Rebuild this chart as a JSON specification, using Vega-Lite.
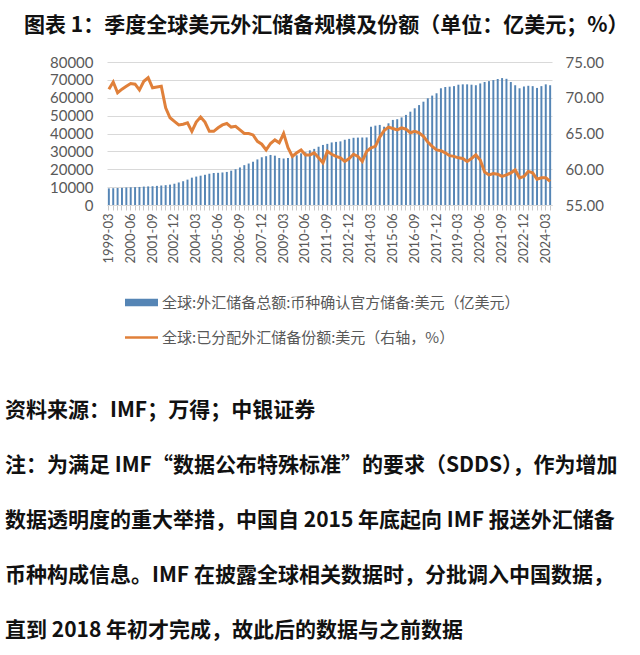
{
  "$schema": "https://vega.github.io/schema/vega-lite/v6.json",
  "background": "white",
  "padding": {"left": 5, "top": 15, "right": 5, "bottom": 0},
  "title": {
    "text": "图表 1：季度全球美元外汇储备规模及份额（单位：亿美元；%）",
    "font": "Noto Sans CJK SC",
    "fontSize": 21,
    "fontWeight": "bold",
    "color": "#111111",
    "anchor": "start",
    "dx": 19,
    "offset": 19
  },
  "datasets": {
    "reserves": [
      {"q": "1999-03", "usd": 9300, "share": 71.2},
      {"q": "1999-06", "usd": 9400, "share": 72.2},
      {"q": "1999-09", "usd": 9500, "share": 70.7},
      {"q": "1999-12", "usd": 9600, "share": 71.2},
      {"q": "2000-03", "usd": 9800, "share": 71.6},
      {"q": "2000-06", "usd": 9900, "share": 72.0},
      {"q": "2000-09", "usd": 10000, "share": 71.9},
      {"q": "2000-12", "usd": 10100, "share": 71.1},
      {"q": "2001-03", "usd": 10300, "share": 72.3},
      {"q": "2001-06", "usd": 10400, "share": 72.8},
      {"q": "2001-09", "usd": 10500, "share": 71.4},
      {"q": "2001-12", "usd": 10700, "share": 71.5},
      {"q": "2002-03", "usd": 10900, "share": 71.6},
      {"q": "2002-06", "usd": 11100, "share": 68.6},
      {"q": "2002-09", "usd": 11400, "share": 67.2},
      {"q": "2002-12", "usd": 11900, "share": 66.7},
      {"q": "2003-03", "usd": 12600, "share": 66.2},
      {"q": "2003-06", "usd": 13300, "share": 66.3},
      {"q": "2003-09", "usd": 14200, "share": 66.5},
      {"q": "2003-12", "usd": 15300, "share": 65.3},
      {"q": "2004-03", "usd": 15900, "share": 66.6},
      {"q": "2004-06", "usd": 16400, "share": 67.3},
      {"q": "2004-09", "usd": 16900, "share": 66.6},
      {"q": "2004-12", "usd": 17500, "share": 65.3},
      {"q": "2005-03", "usd": 17900, "share": 65.3},
      {"q": "2005-06", "usd": 18000, "share": 65.8},
      {"q": "2005-09", "usd": 18200, "share": 66.2},
      {"q": "2005-12", "usd": 18500, "share": 66.4},
      {"q": "2006-03", "usd": 19200, "share": 65.9},
      {"q": "2006-06", "usd": 20000, "share": 66.0},
      {"q": "2006-09", "usd": 21000, "share": 65.5},
      {"q": "2006-12", "usd": 22300, "share": 65.0},
      {"q": "2007-03", "usd": 23200, "share": 65.0},
      {"q": "2007-06", "usd": 24200, "share": 64.8},
      {"q": "2007-09", "usd": 25500, "share": 63.9},
      {"q": "2007-12", "usd": 26700, "share": 63.5},
      {"q": "2008-03", "usd": 27300, "share": 62.7},
      {"q": "2008-06", "usd": 28000, "share": 63.6},
      {"q": "2008-09", "usd": 27600, "share": 64.1},
      {"q": "2008-12", "usd": 26300, "share": 63.7},
      {"q": "2009-03", "usd": 26000, "share": 65.0},
      {"q": "2009-06", "usd": 26300, "share": 63.0},
      {"q": "2009-09", "usd": 27000, "share": 61.8},
      {"q": "2009-12", "usd": 27800, "share": 62.3},
      {"q": "2010-03", "usd": 28900, "share": 62.7},
      {"q": "2010-06", "usd": 29500, "share": 62.0},
      {"q": "2010-09", "usd": 30600, "share": 62.0},
      {"q": "2010-12", "usd": 31400, "share": 62.3},
      {"q": "2011-03", "usd": 32600, "share": 61.6},
      {"q": "2011-06", "usd": 33600, "share": 60.9},
      {"q": "2011-09", "usd": 34200, "share": 62.5},
      {"q": "2011-12", "usd": 35000, "share": 62.1},
      {"q": "2012-03", "usd": 35300, "share": 61.8},
      {"q": "2012-06", "usd": 35600, "share": 61.6},
      {"q": "2012-09", "usd": 36500, "share": 61.1},
      {"q": "2012-12", "usd": 37000, "share": 61.5},
      {"q": "2013-03", "usd": 37600, "share": 62.1},
      {"q": "2013-06", "usd": 37700, "share": 61.8},
      {"q": "2013-09", "usd": 37700, "share": 61.1},
      {"q": "2013-12", "usd": 37800, "share": 62.5},
      {"q": "2014-03", "usd": 43800, "share": 63.0},
      {"q": "2014-06", "usd": 44400, "share": 63.2},
      {"q": "2014-09", "usd": 44800, "share": 64.5},
      {"q": "2014-12", "usd": 43800, "share": 65.4},
      {"q": "2015-03", "usd": 45700, "share": 65.9},
      {"q": "2015-06", "usd": 47600, "share": 65.7},
      {"q": "2015-09", "usd": 48000, "share": 65.5},
      {"q": "2015-12", "usd": 49000, "share": 65.8},
      {"q": "2016-03", "usd": 50400, "share": 65.6},
      {"q": "2016-06", "usd": 52200, "share": 65.1},
      {"q": "2016-09", "usd": 54100, "share": 65.3},
      {"q": "2016-12", "usd": 55900, "share": 65.1},
      {"q": "2017-03", "usd": 57800, "share": 64.6},
      {"q": "2017-06", "usd": 59700, "share": 63.8},
      {"q": "2017-09", "usd": 61200, "share": 63.2},
      {"q": "2017-12", "usd": 62500, "share": 62.7},
      {"q": "2018-03", "usd": 65300, "share": 62.6},
      {"q": "2018-06", "usd": 66000, "share": 62.3},
      {"q": "2018-09", "usd": 66200, "share": 61.9},
      {"q": "2018-12", "usd": 66500, "share": 61.8},
      {"q": "2019-03", "usd": 67300, "share": 61.6},
      {"q": "2019-06", "usd": 67500, "share": 61.5},
      {"q": "2019-09", "usd": 67500, "share": 61.1},
      {"q": "2019-12", "usd": 67300, "share": 61.5},
      {"q": "2020-03", "usd": 67000, "share": 62.0},
      {"q": "2020-06", "usd": 68000, "share": 61.3},
      {"q": "2020-09", "usd": 68800, "share": 59.6},
      {"q": "2020-12", "usd": 69300, "share": 59.2},
      {"q": "2021-03", "usd": 69900, "share": 59.4},
      {"q": "2021-06", "usd": 70500, "share": 59.3},
      {"q": "2021-09", "usd": 71000, "share": 59.0},
      {"q": "2021-12", "usd": 70600, "share": 59.2},
      {"q": "2022-03", "usd": 68800, "share": 59.5},
      {"q": "2022-06", "usd": 67000, "share": 59.9},
      {"q": "2022-09", "usd": 65300, "share": 58.8},
      {"q": "2022-12", "usd": 66300, "share": 59.0},
      {"q": "2023-03", "usd": 66700, "share": 59.7},
      {"q": "2023-06", "usd": 66500, "share": 59.5},
      {"q": "2023-09", "usd": 65500, "share": 58.6},
      {"q": "2023-12", "usd": 66500, "share": 58.8},
      {"q": "2024-03", "usd": 67500, "share": 58.8},
      {"q": "2024-06", "usd": 67000, "share": 58.3}
    ],
    "notes": [
      {"n": 1, "t": "资料来源：IMF；万得；中银证券"},
      {"n": 2, "t": "注：为满足 IMF“数据公布特殊标准”的要求（SDDS），作为增加"},
      {"n": 3, "t": "数据透明度的重大举措，中国自 2015 年底起向 IMF 报送外汇储备"},
      {"n": 4, "t": "币种构成信息。IMF 在披露全球相关数据时，分批调入中国数据，"},
      {"n": 5, "t": "直到 2018 年初才完成，故此后的数据与之前数据"}
    ]
  },
  "concat": [
    {
      "width": 445,
      "height": 143,
      "data": {"name": "reserves"},
      "encoding": {
        "x": {
          "field": "q",
          "type": "ordinal",
          "title": null,
          "scale": {"paddingInner": 0.55, "paddingOuter": 0.2},
          "axis": {
            "labelAngle": -90,
            "labelFont": "Lato",
            "labelFontSize": 13,
            "labelColor": "#595959",
            "labelOverlap": false,
            "labelPadding": 3,
            "labelExpr": "indexof(['1999-03','2000-06','2001-09','2002-12','2004-03','2005-06','2006-09','2007-12','2009-03','2010-06','2011-09','2012-12','2014-03','2015-06','2016-09','2017-12','2019-03','2020-06','2021-09','2022-12','2024-03'], datum.value) >= 0 ? datum.value : ''",
            "domainColor": "#d9d9d9",
            "tickColor": "#c8c8c8",
            "tickSize": 5,
            "grid": false
          }
        }
      },
      "layer": [
        {
          "mark": {"type": "bar"},
          "encoding": {
            "y": {
              "field": "usd",
              "type": "quantitative",
              "title": null,
              "scale": {"domain": [0, 80000]},
              "axis": {
                "values": [0, 10000, 20000, 30000, 40000, 50000, 60000, 70000, 80000],
                "format": "d",
                "labelFont": "Lato",
                "labelFontSize": 15,
                "labelColor": "#595959",
                "labelPadding": 14,
                "minExtent": 102,
                "domain": false,
                "ticks": false,
                "grid": true,
                "gridColor": "#d9d9d9"
              }
            },
            "color": {
              "datum": "全球:外汇储备总额:币种确认官方储备:美元（亿美元）",
              "scale": {
                "domain": ["全球:外汇储备总额:币种确认官方储备:美元（亿美元）", "全球:已分配外汇储备份额:美元（右轴，%）"],
                "range": ["#5585B5", "#E0803A"]
              },
              "legend": {
                "orient": "none",
                "legendX": 18,
                "legendY": 224,
                "direction": "vertical",
                "title": null,
                "labelFont": "Noto Sans CJK SC",
                "labelFontSize": 15,
                "labelColor": "#595959",
                "labelLimit": 450,
                "labelOffset": 4,
                "symbolSize": 1089,
                "rowPadding": 10,
                "encode": {
                  "symbols": {
                    "update": {
                      "shape": {"signal": "datum.value == '全球:已分配外汇储备份额:美元（右轴，%）' ? 'M-1,-0.08H1V0.08H-1Z' : 'M-1,-0.22H1V0.22H-1Z'"},
                      "fill": {"signal": "datum.value == '全球:已分配外汇储备份额:美元（右轴，%）' ? '#E0803A' : '#5585B5'"},
                      "stroke": {"value": "transparent"},
                      "strokeWidth": {"value": 0},
                      "opacity": {"value": 1}
                    }
                  }
                }
              }
            }
          }
        },
        {
          "mark": {"type": "line", "strokeWidth": 3},
          "encoding": {
            "y": {
              "field": "share",
              "type": "quantitative",
              "title": null,
              "scale": {"domain": [55, 75]},
              "axis": {
                "orient": "right",
                "values": [55, 60, 65, 70, 75],
                "format": ".2f",
                "labelFont": "Lato",
                "labelFontSize": 15,
                "labelColor": "#595959",
                "labelPadding": 13,
                "domain": false,
                "ticks": false,
                "grid": false
              }
            },
            "color": {"datum": "全球:已分配外汇储备份额:美元（右轴，%）"}
          }
        }
      ],
      "resolve": {"scale": {"y": "independent"}}
    },
    {
      "width": 528,
      "height": 275,
      "data": {"name": "notes"},
      "mark": {
        "type": "text",
        "align": "left",
        "baseline": "middle",
        "font": "Noto Sans CJK SC",
        "fontSize": 21,
        "fontWeight": "bold",
        "color": "#111111"
      },
      "encoding": {
        "y": {"field": "n", "type": "ordinal", "axis": null, "scale": {"type": "point", "padding": 0.5}},
        "x": {"datum": 0, "type": "quantitative", "scale": {"domain": [0, 1], "range": [-102, 528]}, "axis": null},
        "text": {"field": "t", "type": "nominal"}
      }
    }
  ],
  "columns": 1,
  "align": "none",
  "spacing": 119,
  "config": {
    "view": {"stroke": null}
  }
}
